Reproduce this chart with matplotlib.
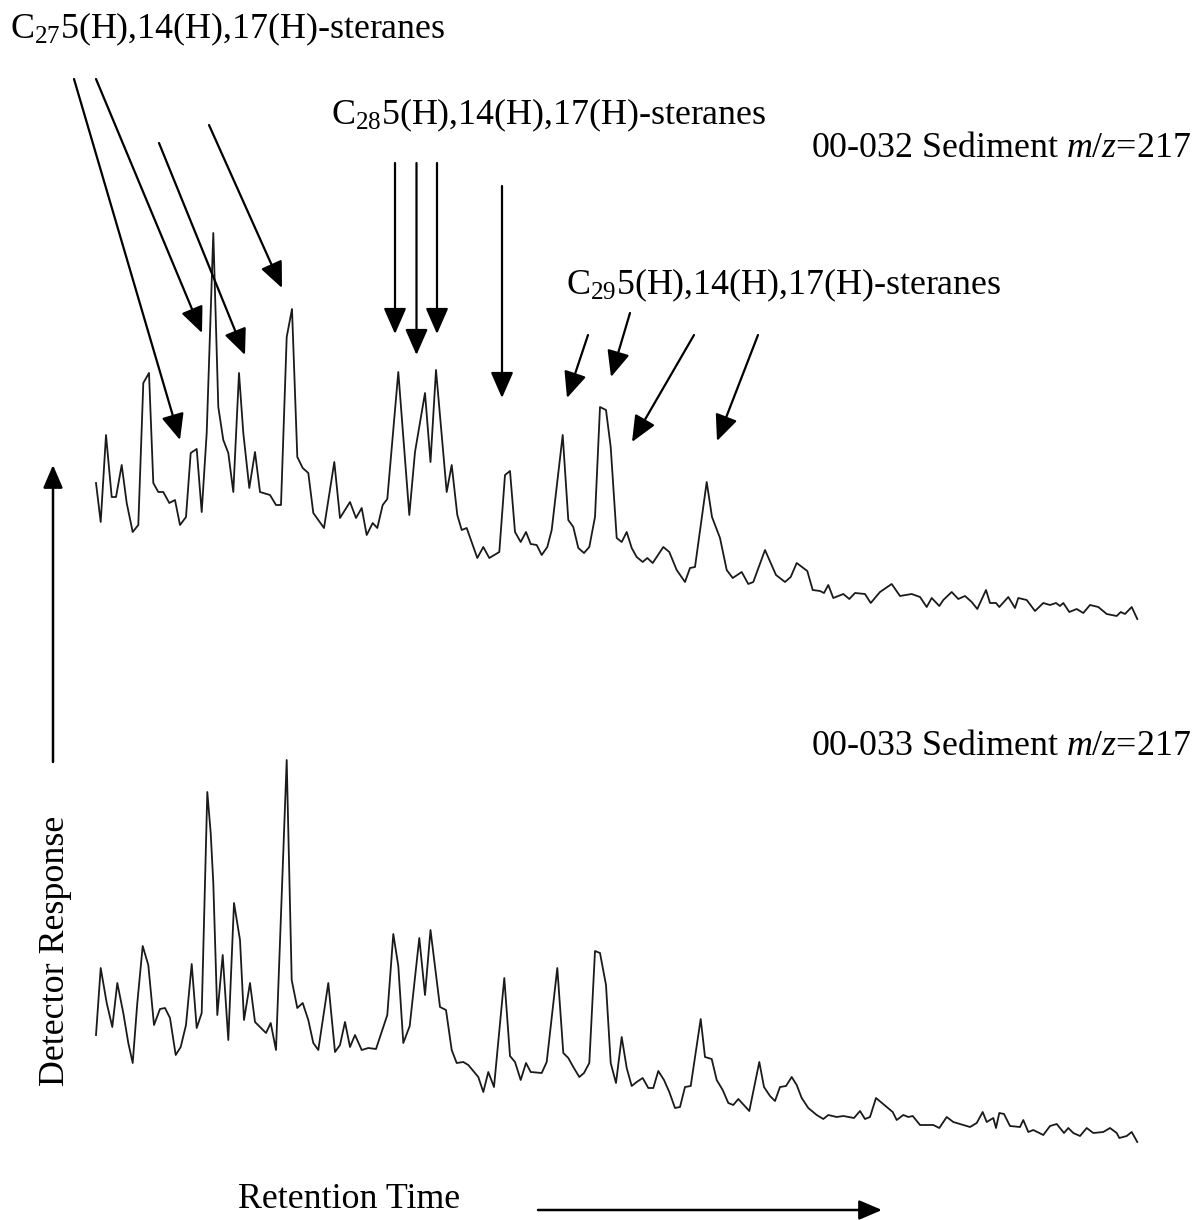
import matplotlib
matplotlib.use("Agg")
import numpy as np
import matplotlib.pyplot as plt

# retention positions (arbitrary units) and detector response
rt_032 = [96, 100.7, 106, 111.7, 116, 121.7, 126.7, 132.7, 138.3, 143.3, 149, 153.3, 158.3,
          163.3, 169.3, 175, 180, 186, 190.7, 196.7, 201.7, 206.7, 213.3, 218.3, 223.3, 228.3,
          233.3, 239, 243.3, 249.3, 255, 260, 270, 276, 281, 286.7, 292, 297.3, 302.7, 308.3,
          313.3, 324, 334.3, 340, 350, 356, 361.7, 366.7, 372.7, 377.3, 382.7, 387.3, 398.3,
          409.3, 415, 425, 430.5, 436, 446.7, 451.7, 457.3, 461.7, 466.7, 477.3, 483.3, 489.3,
          499.3, 505, 510, 515, 520.7, 526, 530.7, 536.7, 541.7, 547.3, 551.7, 562.7, 568.3,
          573.3, 578.3, 584, 589.3, 595, 600, 606, 610.7, 616.7, 621.7, 626.7, 631.7, 636.7,
          642.7, 647.3, 652.7, 663.3, 669.3, 676.7, 685, 690, 695, 706.7, 712, 720, 726.7,
          732.7, 741.7, 748.3, 753.3, 765, 776, 785, 790.7, 796.7, 807.3, 812.7, 820, 824,
          828.3, 833.3, 843.3, 849.3, 855, 865, 870.7, 880, 891.7, 900, 911.7, 920, 926.7,
          931.7, 939.3, 943.3, 951.7, 958.3, 965, 971.7, 977.3, 986, 990, 996, 999.3, 1008.3,
          1015, 1018.3, 1026.7, 1035, 1043.3, 1050, 1056, 1060, 1063.3, 1069.3, 1076.7, 1083.3,
          1090, 1098.3, 1106.7, 1116.7, 1120.7, 1125, 1131.7, 1137.3]
resp_032 = [157, 118, 205, 143, 143, 175, 137, 108, 115, 257, 267, 157, 148,
            148, 137, 140, 115, 123, 187, 191, 128, 207, 407, 233, 200, 187,
            148, 267, 207, 152, 188, 148, 145, 135, 135, 303, 331, 183, 172, 167,
            127, 112, 178, 122, 138, 122, 132, 105, 117, 112, 135, 141, 268,
            125, 188, 247, 178, 270, 148, 175, 125, 110, 112, 82, 93, 82,
            88, 165, 169, 108, 98, 108, 96, 95, 85, 93, 110, 205, 120,
            113, 92, 87, 93, 123, 233, 230, 193, 102, 98, 108, 92, 83,
            78, 82, 77, 93, 88, 70, 58, 72, 73, 158, 123, 102, 70,
            62, 68, 56, 58, 90, 65, 58, 63, 77, 69, 50, 49, 47,
            55, 42, 46, 41, 47, 46, 37, 48, 56, 44, 46, 43, 33,
            42, 34, 40, 48, 41, 44, 38, 31, 50, 37, 37, 33, 43,
            32, 42, 40, 29, 37, 35, 37, 34, 37, 28, 31, 27,
            35, 33, 26, 24, 28, 26, 33, 21]

rt_033 = [96, 100.7, 106.7, 112.3, 117.3, 123.3, 128.3, 132.7, 137.3, 142.7, 148.3, 154, 160,
          165, 170, 175.7, 180.7, 186, 191.7, 196.7, 201.7, 207.3, 210.7, 213.3, 217.3, 222.7,
          228.3, 234, 240, 244, 250, 255, 266, 270.7, 276, 286.7, 291.7, 297.3, 302.7, 308.3,
          313.3, 318.3, 328.3, 335, 340, 345, 350, 355, 361.7, 368.3, 376, 381.7, 387.3, 393.3,
          398.3, 403.3, 409.7, 419.3, 425, 430.5, 440, 446, 451.7, 456.7, 463.3, 468.3, 475,
          478.3, 483.3, 488.3, 494, 504.3, 510, 515, 520.7, 526, 530.7, 541.7, 546.7, 557.3,
          563.3, 568.3, 573.3, 579.3, 584, 589.3, 595, 600, 606, 610.7, 616, 621.7, 626.7,
          631.7, 636.7, 642.7, 648.3, 653.3, 658.3, 664, 669.3, 675, 680, 685, 690.7, 700.7,
          705, 711.7, 716.7, 722.7, 728.3, 733.3, 738.3, 749.3, 755, 759.3, 764, 770, 775,
          780, 786, 791.7, 796.7, 801.7, 808.3, 816.7, 823.3, 828.3, 836.7, 843.3, 854, 860,
          865, 870, 876, 886.7, 892.7, 896.7, 903.3, 908.3, 912.7, 920, 926.7, 933.3, 939.3,
          946.7, 953.3, 963.3, 970, 976.7, 982.7, 986.7, 993.3, 996, 999.3, 1004, 1010, 1020,
          1023.3, 1028.3, 1033.3, 1043.3, 1050, 1056.7, 1064, 1068.3, 1073.3, 1080, 1086.7,
          1093.3, 1103.3, 1110, 1116.7, 1119.3, 1126.7, 1131.7, 1137.3]
resp_033 = [125, 192, 157, 133, 177, 147, 117, 97, 157, 214, 195, 135, 151,
            152, 142, 105, 113, 135, 196, 132, 147, 368, 327, 277, 145, 205,
            120, 257, 220, 140, 177, 138, 127, 137, 110, 400, 180, 152, 157, 140,
            117, 110, 177, 108, 115, 138, 113, 125, 110, 112, 111, 128, 145, 226,
            194, 117, 134, 222, 165, 230, 153, 150, 110, 97, 98, 95, 87,
            83, 68, 88, 73, 182, 104, 98, 80, 97, 88, 87, 98, 192,
            107, 102, 93, 83, 87, 97, 209, 207, 175, 97, 77, 123, 92,
            74, 78, 82, 72, 72, 89, 80, 68, 52, 53, 73, 74, 141,
            103, 101, 80, 70, 57, 55, 61, 49, 77, 98, 73, 64, 59,
            73, 74, 83, 75, 62, 52, 45, 41, 45, 43, 44, 42, 49,
            41, 43, 62, 53, 48, 40, 45, 43, 44, 35, 35, 35, 32,
            43, 38, 35, 33, 37, 48, 38, 42, 32, 47, 46, 34, 33,
            40, 28, 30, 25, 34, 36, 27, 32, 27, 24, 32,
            27, 28, 32, 27, 22, 24, 28, 18]

group_labels = [r"C$_{27}$5(H),14(H),17(H)-steranes",
                r"C$_{28}$5(H),14(H),17(H)-steranes",
                r"C$_{29}$5(H),14(H),17(H)-steranes"]
sample_labels = [r"00-032 Sediment $\mathit{m/z}$=217",
                 r"00-033 Sediment $\mathit{m/z}$=217"]

# peak markers on the upper trace: (tail, tip) in figure pixels
peak_arrows = [
    ((74, 79), (180, 440)),
    ((96, 79), (202, 333)),
    ((159, 143), (245, 355)),
    ((209, 125), (282, 288)),
    ((395, 163), (395, 334)),
    ((416.5, 163), (416.5, 355)),
    ((437, 163), (437, 334)),
    ((502, 186), (502, 398)),
    ((588, 335), (567, 398)),
    ((630, 313), (611, 377)),
    ((694, 335), (632, 442)),
    ((758, 335), (717, 441)),
]

W, H = 1195, 1220

plt.rcParams["font.family"] = ["Liberation Serif", "DejaVu Serif"]
plt.rcParams["mathtext.fontset"] = "custom"
plt.rcParams["mathtext.rm"] = "Liberation Serif"
plt.rcParams["mathtext.it"] = "Liberation Serif:italic"


def trace_axes(fig, top_px, bottom_px):
    ax = fig.add_axes([0, 1 - bottom_px / H, 1, (bottom_px - top_px) / H])
    ax.set_xlim(0, W)
    ax.set_ylim(0, bottom_px - top_px)
    ax.axis("off")
    return ax


def main():
    fig = plt.figure(figsize=(W / 100, H / 100), dpi=100)

    ax1 = trace_axes(fig, 200, 640)
    ax1.plot(rt_032, resp_032, color="#1a1a1a", lw=1.3)

    ax2 = trace_axes(fig, 720, 1160)
    ax2.plot(rt_033, resp_033, color="#1a1a1a", lw=1.3)

    # overlay in pixel coordinates for labels and arrows
    ov = fig.add_axes([0, 0, 1, 1])
    ov.set_xlim(0, W)
    ov.set_ylim(H, 0)
    ov.axis("off")

    fs = 25.8
    ov.text(10, 38, group_labels[0], fontsize=fs, ha="left", va="baseline")
    ov.text(331, 124, group_labels[1], fontsize=fs, ha="left", va="baseline")
    ov.text(566, 294, group_labels[2], fontsize=fs, ha="left", va="baseline")
    ov.text(1191, 157, sample_labels[0], fontsize=fs, ha="right", va="baseline")
    ov.text(1191, 755, sample_labels[1], fontsize=fs, ha="right", va="baseline")

    head = "-|>,head_length=0.8,head_width=0.35"
    for tail, tip in peak_arrows:
        ov.annotate("", xy=tip, xytext=tail,
                    arrowprops=dict(arrowstyle=head, mutation_scale=20, lw=1.6,
                                    color="black", shrinkA=0, shrinkB=0))

    # axis direction arrows
    ov.annotate("", xy=(53, 465), xytext=(53, 762),
                arrowprops=dict(arrowstyle="-|>,head_length=0.7,head_width=0.3",
                                mutation_scale=20, lw=1.8, color="black",
                                shrinkA=0, shrinkB=0))
    ov.annotate("", xy=(882, 1210), xytext=(538, 1210),
                arrowprops=dict(arrowstyle="-|>,head_length=0.7,head_width=0.3",
                                mutation_scale=20, lw=1.8, color="black",
                                shrinkA=0, shrinkB=0))
    ov.text(56, 951, "Detector Response", fontsize=fs, rotation=90,
            ha="center", va="center")
    ov.text(349, 1200, "Retention Time", fontsize=fs, ha="center", va="center")

    fig.savefig("out.png", dpi=100)


if __name__ == "__main__":
    main()
